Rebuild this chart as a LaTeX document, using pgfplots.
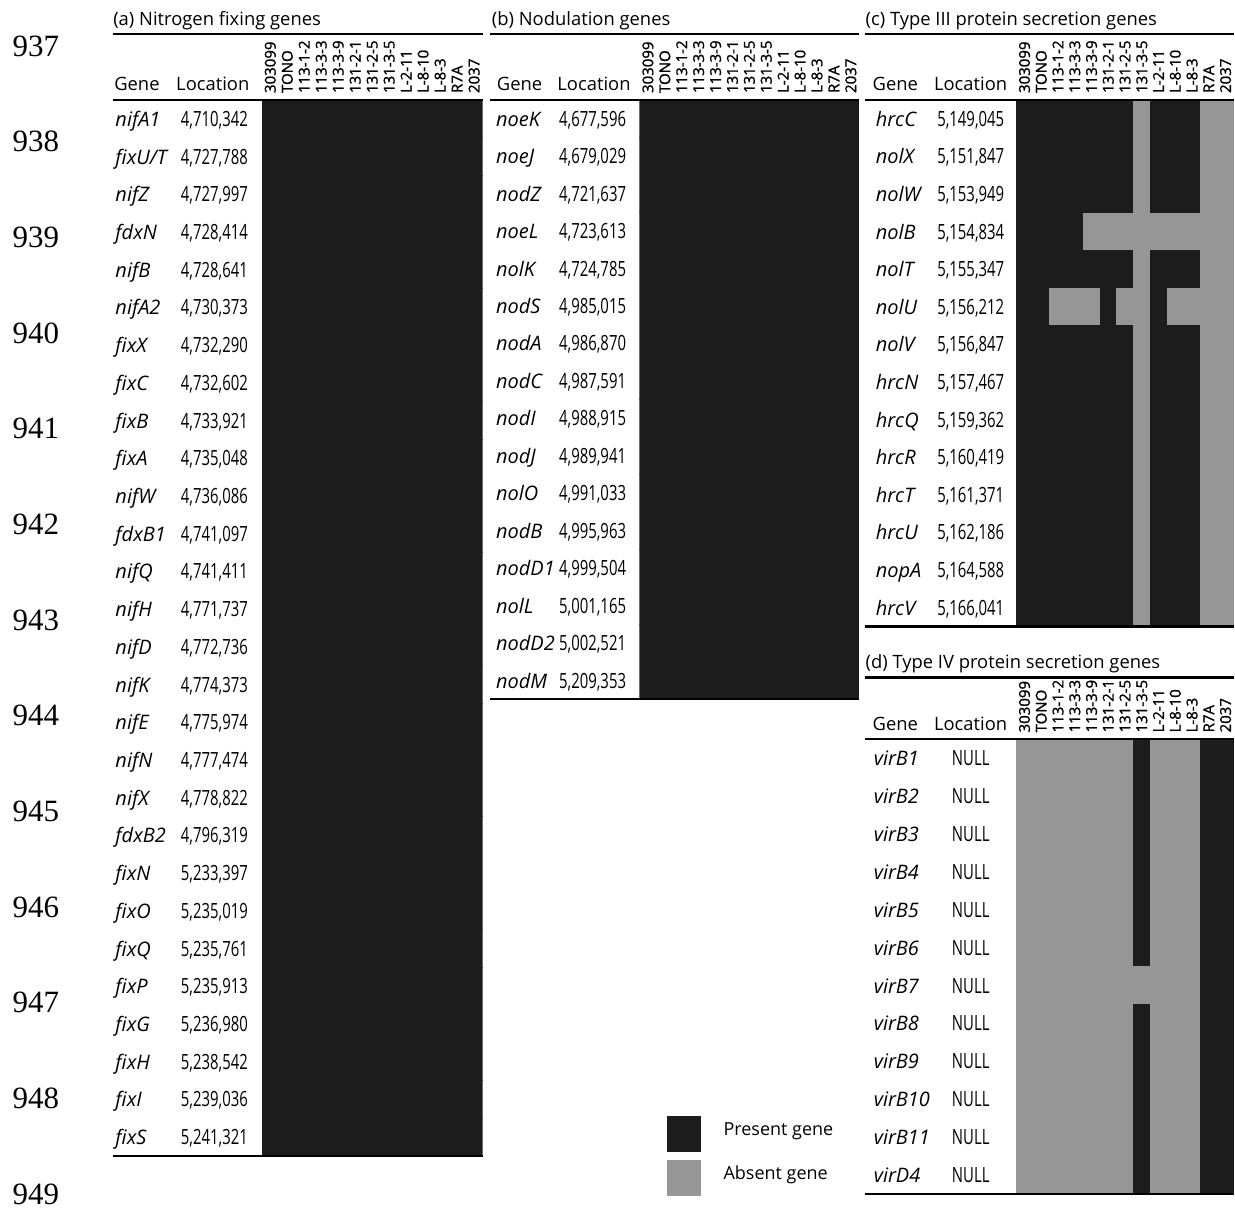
\documentclass[border=0pt]{standalone}
\usepackage{pgfplots}
\pgfplotsset{compat=1.18}
\usepackage{pgfplotstable}
\usepackage{fontspec}
\setmainfont{Open Sans}
\newfontfamily\strainfont[FakeBold=1.2]{Open Sans}
\newfontfamily\linenumfont{Liberation Serif}
\definecolor{present}{RGB}{28,28,28}
\definecolor{absent}{RGB}{150,150,150}

\newlength\cellw \newlength\cellh
\newlength\glw \newlength\glo
\pgfdeclareplotmark{cell}{\pgfpathrectangle{\pgfpoint{-\cellw}{-\cellh}}{\pgfpoint{2\cellw}{2\cellh}}\pgfusepathqfill}
\newcommand\fs{\fontsize{9pt}{10.8pt}\selectfont}
\newcommand\gl[2]{\makebox[\glw][l]{\makebox[0pt][l]{\fontsize{10pt}{12pt}\selectfont\textit{#1}}\hspace*{\glo}\makebox[0pt][c]{\fontsize{10.5pt}{12pt}\selectfont\scalebox{0.71}[1]{#2}}}}

% 1 = present gene, 0 = absent gene; columns s1..s13 are the strains
% 303099, TONO, 113-1-2, 113-3-3, 113-3-9, 131-2-1, 131-2-5, 131-3-5, L-2-11, L-8-10, L-8-3, R7A, 2037
\pgfplotstableread{
g s1 s2 s3 s4 s5 s6 s7 s8 s9 s10 s11 s12 s13
nifA1 1 1 1 1 1 1 1 1 1 1 1 1 1
fixU/T 1 1 1 1 1 1 1 1 1 1 1 1 1
nifZ 1 1 1 1 1 1 1 1 1 1 1 1 1
fdxN 1 1 1 1 1 1 1 1 1 1 1 1 1
nifB 1 1 1 1 1 1 1 1 1 1 1 1 1
nifA2 1 1 1 1 1 1 1 1 1 1 1 1 1
fixX 1 1 1 1 1 1 1 1 1 1 1 1 1
fixC 1 1 1 1 1 1 1 1 1 1 1 1 1
fixB 1 1 1 1 1 1 1 1 1 1 1 1 1
fixA 1 1 1 1 1 1 1 1 1 1 1 1 1
nifW 1 1 1 1 1 1 1 1 1 1 1 1 1
fdxB1 1 1 1 1 1 1 1 1 1 1 1 1 1
nifQ 1 1 1 1 1 1 1 1 1 1 1 1 1
nifH 1 1 1 1 1 1 1 1 1 1 1 1 1
nifD 1 1 1 1 1 1 1 1 1 1 1 1 1
nifK 1 1 1 1 1 1 1 1 1 1 1 1 1
nifE 1 1 1 1 1 1 1 1 1 1 1 1 1
nifN 1 1 1 1 1 1 1 1 1 1 1 1 1
nifX 1 1 1 1 1 1 1 1 1 1 1 1 1
fdxB2 1 1 1 1 1 1 1 1 1 1 1 1 1
fixN 1 1 1 1 1 1 1 1 1 1 1 1 1
fixO 1 1 1 1 1 1 1 1 1 1 1 1 1
fixQ 1 1 1 1 1 1 1 1 1 1 1 1 1
fixP 1 1 1 1 1 1 1 1 1 1 1 1 1
fixG 1 1 1 1 1 1 1 1 1 1 1 1 1
fixH 1 1 1 1 1 1 1 1 1 1 1 1 1
fixI 1 1 1 1 1 1 1 1 1 1 1 1 1
fixS 1 1 1 1 1 1 1 1 1 1 1 1 1
}\tabA

\pgfplotstableread{
g s1 s2 s3 s4 s5 s6 s7 s8 s9 s10 s11 s12 s13
noeK 1 1 1 1 1 1 1 1 1 1 1 1 1
noeJ 1 1 1 1 1 1 1 1 1 1 1 1 1
nodZ 1 1 1 1 1 1 1 1 1 1 1 1 1
noeL 1 1 1 1 1 1 1 1 1 1 1 1 1
nolK 1 1 1 1 1 1 1 1 1 1 1 1 1
nodS 1 1 1 1 1 1 1 1 1 1 1 1 1
nodA 1 1 1 1 1 1 1 1 1 1 1 1 1
nodC 1 1 1 1 1 1 1 1 1 1 1 1 1
nodI 1 1 1 1 1 1 1 1 1 1 1 1 1
nodJ 1 1 1 1 1 1 1 1 1 1 1 1 1
nolO 1 1 1 1 1 1 1 1 1 1 1 1 1
nodB 1 1 1 1 1 1 1 1 1 1 1 1 1
nodD1 1 1 1 1 1 1 1 1 1 1 1 1 1
nolL 1 1 1 1 1 1 1 1 1 1 1 1 1
nodD2 1 1 1 1 1 1 1 1 1 1 1 1 1
nodM 1 1 1 1 1 1 1 1 1 1 1 1 1
}\tabB

\pgfplotstableread{
g s1 s2 s3 s4 s5 s6 s7 s8 s9 s10 s11 s12 s13
hrcC 1 1 1 1 1 1 1 0 1 1 1 0 0
nolX 1 1 1 1 1 1 1 0 1 1 1 0 0
nolW 1 1 1 1 1 1 1 0 1 1 1 0 0
nolB 1 1 1 1 0 0 0 0 0 0 0 0 0
nolT 1 1 1 1 1 1 1 0 1 1 1 0 0
nolU 1 1 0 0 0 1 0 0 1 0 0 0 0
nolV 1 1 1 1 1 1 1 0 1 1 1 0 0
hrcN 1 1 1 1 1 1 1 0 1 1 1 0 0
hrcQ 1 1 1 1 1 1 1 0 1 1 1 0 0
hrcR 1 1 1 1 1 1 1 0 1 1 1 0 0
hrcT 1 1 1 1 1 1 1 0 1 1 1 0 0
hrcU 1 1 1 1 1 1 1 0 1 1 1 0 0
nopA 1 1 1 1 1 1 1 0 1 1 1 0 0
hrcV 1 1 1 1 1 1 1 0 1 1 1 0 0
}\tabC

\pgfplotstableread{
g s1 s2 s3 s4 s5 s6 s7 s8 s9 s10 s11 s12 s13
virB1 0 0 0 0 0 0 0 1 0 0 0 1 1
virB2 0 0 0 0 0 0 0 1 0 0 0 1 1
virB3 0 0 0 0 0 0 0 1 0 0 0 1 1
virB4 0 0 0 0 0 0 0 1 0 0 0 1 1
virB5 0 0 0 0 0 0 0 1 0 0 0 1 1
virB6 0 0 0 0 0 0 0 1 0 0 0 1 1
virB7 0 0 0 0 0 0 0 0 0 0 0 1 1
virB8 0 0 0 0 0 0 0 1 0 0 0 1 1
virB9 0 0 0 0 0 0 0 1 0 0 0 1 1
virB10 0 0 0 0 0 0 0 1 0 0 0 1 1
virB11 0 0 0 0 0 0 0 1 0 0 0 1 1
virD4 0 0 0 0 0 0 0 1 0 0 0 1 1
}\tabD

\pgfplotsset{
  hm/.style={
    scale only axis, anchor=north west,
    xmin=-0.5, xmax=12.5, ymin=-0.5, y dir=reverse,
    enlargelimits=false,
    axis line style={draw=none}, major tick length=0pt, tick style={draw=none},
    xtick={0,...,12},
    xticklabels={303099,TONO,113-1-2,113-3-3,113-3-9,131-2-1,131-2-5,131-3-5,L-2-11,L-8-10,L-8-3,R7A,2037},
    xticklabel pos=right,
    xticklabel style={rotate=90, anchor=west, inner sep=0pt, font=\strainfont\fontsize{7.5pt}{9pt}\selectfont, text height=5.4pt, text depth=0pt},
    xticklabel shift=3.3pt,
    yticklabel style={anchor=east, inner sep=0pt, font=\fs, text height=7.5pt, text depth=0pt},
    colormap={pa}{rgb255=(150,150,150) rgb255=(28,28,28)},
    point meta min=0, point meta max=1,
    clip marker paths=true,
  },
  cells/.style={forget plot, scatter, only marks, mark=cell, point meta=explicit},
}

\begin{document}
\begin{tikzpicture}
\begin{scope}[x=0.5pt,y=-0.5pt]
\useasboundingbox (0,0) rectangle (1235,1212);
\end{scope}

% (a)
\setlength\cellw{4.35pt}\setlength\cellh{9.55pt}
\setlength\glw{73pt}\setlength\glo{49.5pt}
\begin{axis}[hm, at={(131pt,-50pt)}, width=110.5pt, height=528.5pt, ymax=27.5,
  ytick={0,...,27},
  yticklabels={{\gl{nifA1}{4,710,342}},{\gl{fixU/T}{4,727,788}},{\gl{nifZ}{4,727,997}},{\gl{fdxN}{4,728,414}},
  {\gl{nifB}{4,728,641}},{\gl{nifA2}{4,730,373}},{\gl{fixX}{4,732,290}},{\gl{fixC}{4,732,602}},
  {\gl{fixB}{4,733,921}},{\gl{fixA}{4,735,048}},{\gl{nifW}{4,736,086}},{\gl{fdxB1}{4,741,097}},
  {\gl{nifQ}{4,741,411}},{\gl{nifH}{4,771,737}},{\gl{nifD}{4,772,736}},{\gl{nifK}{4,774,373}},
  {\gl{nifE}{4,775,974}},{\gl{nifN}{4,777,474}},{\gl{nifX}{4,778,822}},{\gl{fdxB2}{4,796,319}},
  {\gl{fixN}{5,233,397}},{\gl{fixO}{5,235,019}},{\gl{fixQ}{5,235,761}},{\gl{fixP}{5,235,913}},
  {\gl{fixG}{5,236,980}},{\gl{fixH}{5,238,542}},{\gl{fixI}{5,239,036}},{\gl{fixS}{5,241,321}}},
]
\pgfplotsinvokeforeach{1,...,13}{
  \addplot[cells] table[x expr=#1-1, y expr=\coordindex, meta=s#1] {\tabA};
}
\end{axis}

% (b)
\setlength\cellw{4.33pt}\setlength\cellh{9.48pt}
\setlength\glw{71.5pt}\setlength\glo{48.25pt}
\begin{axis}[hm, at={(320pt,-50pt)}, width=110pt, height=300pt, ymax=15.5,
  ytick={0,...,15},
  yticklabels={{\gl{noeK}{4,677,596}},{\gl{noeJ}{4,679,029}},{\gl{nodZ}{4,721,637}},{\gl{noeL}{4,723,613}},
  {\gl{nolK}{4,724,785}},{\gl{nodS}{4,985,015}},{\gl{nodA}{4,986,870}},{\gl{nodC}{4,987,591}},
  {\gl{nodI}{4,988,915}},{\gl{nodJ}{4,989,941}},{\gl{nolO}{4,991,033}},{\gl{nodB}{4,995,963}},
  {\gl{nodD1}{4,999,504}},{\gl{nolL}{5,001,165}},{\gl{nodD2}{5,002,521}},{\gl{nodM}{5,209,353}}},
]
\pgfplotsinvokeforeach{1,...,13}{
  \addplot[cells] table[x expr=#1-1, y expr=\coordindex, meta=s#1] {\tabB};
}
\end{axis}

% (c)
\setlength\cellw{4.3pt}\setlength\cellh{9.52pt}
\setlength\glw{70pt}\setlength\glo{47.5pt}
\begin{axis}[hm, at={(508.5pt,-50pt)}, width=109pt, height=263.5pt, ymax=13.5,
  ytick={0,...,13},
  yticklabels={{\gl{hrcC}{5,149,045}},{\gl{nolX}{5,151,847}},{\gl{nolW}{5,153,949}},{\gl{nolB}{5,154,834}},
  {\gl{nolT}{5,155,347}},{\gl{nolU}{5,156,212}},{\gl{nolV}{5,156,847}},{\gl{hrcN}{5,157,467}},
  {\gl{hrcQ}{5,159,362}},{\gl{hrcR}{5,160,419}},{\gl{hrcT}{5,161,371}},{\gl{hrcU}{5,162,186}},
  {\gl{nopA}{5,164,588}},{\gl{hrcV}{5,166,041}}},
]
\pgfplotsinvokeforeach{1,...,13}{
  \addplot[cells] table[x expr=#1-1, y expr=\coordindex, meta=s#1] {\tabC};
}
\end{axis}

% (d)
\setlength\cellw{4.3pt}\setlength\cellh{9.58pt}
\setlength\glw{71pt}\setlength\glo{48.5pt}
\begin{axis}[hm, at={(508.5pt,-370pt)}, width=109pt, height=227.5pt, ymax=11.5,
  ytick={0,...,11},
  yticklabels={{\gl{virB1}{NULL}},{\gl{virB2}{NULL}},{\gl{virB3}{NULL}},{\gl{virB4}{NULL}},
  {\gl{virB5}{NULL}},{\gl{virB6}{NULL}},{\gl{virB7}{NULL}},{\gl{virB8}{NULL}},
  {\gl{virB9}{NULL}},{\gl{virB10}{NULL}},{\gl{virB11}{NULL}},{\gl{virD4}{NULL}}},
  legend style={at={(-1.6055,-0.005)}, anchor=south west, draw=none, fill=none, inner sep=0pt,
    row sep=4pt, font=\fs, nodes={inner sep=0pt},
    /tikz/every odd column/.append style={column sep=11.5pt}},
  legend cell align=left,
  legend image code/.code={\fill[#1] (0pt,-6.2pt) rectangle (16.5pt,11.3pt);},
]
\pgfplotsinvokeforeach{1,...,13}{
  \addplot[cells] table[x expr=#1-1, y expr=\coordindex, meta=s#1] {\tabD};
}
\addlegendimage{present}\addlegendentry{Present gene}
\addlegendimage{absent}\addlegendentry{Absent gene}
\end{axis}

\begin{scope}[x=0.5pt,y=-0.5pt]
% rules
\begin{scope}[line width=1.1pt]
\draw (113,34) -- (483,34); \draw (113,100) -- (483,100); \draw (113,1157) -- (483,1157);
\draw (490,34) -- (860,34); \draw (490,100) -- (860,100); \draw (490,700) -- (860,700);
\draw (866,34) -- (1235,34); \draw (866,100) -- (1235,100); \draw (866,627) -- (1235,627);
\draw (866,678) -- (1235,678); \draw (866,740) -- (1235,740); \draw (866,1195) -- (1235,1195);
\end{scope}
% titles
\begin{scope}[every node/.style={inner sep=0pt, font=\fontsize{9.2pt}{11pt}\selectfont}]
\node[anchor=base west] at (113,26) {(a) Nitrogen fixing genes};
\node[anchor=base west] at (492,26) {(b) Nodulation genes};
\node[anchor=base west] at (866,26) {(c) Type III protein secretion genes};
\node[anchor=base west] at (866,669) {(d) Type IV protein secretion genes};
\node[anchor=base west] at (114,91) {Gene};  \node[anchor=base] at (213,91) {Location};
\node[anchor=base west] at (497,91) {Gene};  \node[anchor=base] at (594.5,91) {Location};
\node[anchor=base west] at (873,91) {Gene};  \node[anchor=base] at (971.5,91) {Location};
\node[anchor=base west] at (873,731) {Gene}; \node[anchor=base] at (971.5,731) {Location};
\end{scope}
% manuscript line numbers
\begin{scope}[every node/.style={inner sep=0pt, font=\linenumfont\fontsize{15.5pt}{18pt}\selectfont}]
\node at (36,46) {937};
\node at (36,141.75) {938};
\node at (36,237.5) {939};
\node at (36,333.25) {940};
\node at (36,429) {941};
\node at (36,524.75) {942};
\node at (36,620.5) {943};
\node at (36,716.25) {944};
\node at (36,812) {945};
\node at (36,907.75) {946};
\node at (36,1003.5) {947};
\node at (36,1099.25) {948};
\node at (36,1195) {949};
\end{scope}
\end{scope}
\end{tikzpicture}
\end{document}
